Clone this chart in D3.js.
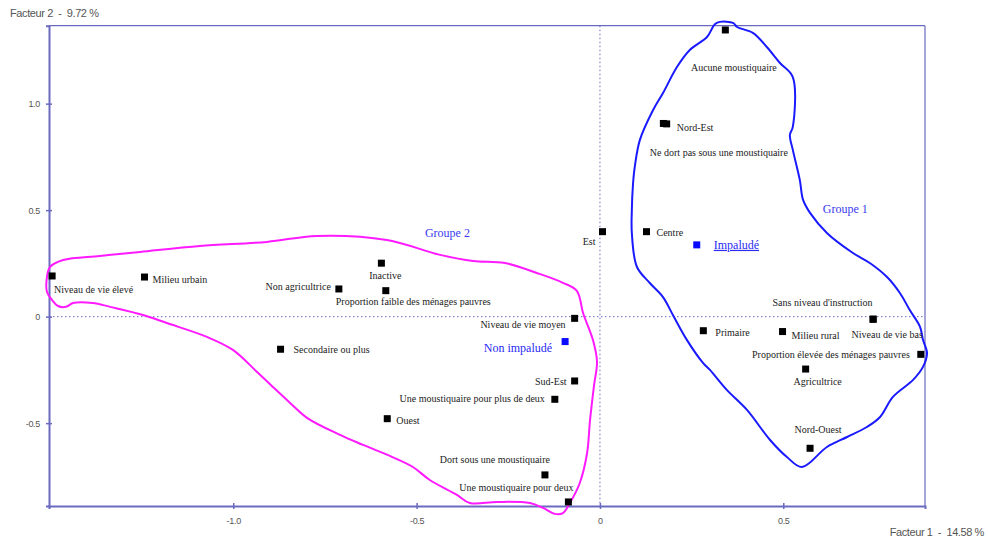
<!DOCTYPE html>
<html lang="fr">
<head>
<meta charset="utf-8">
<script src="https://cdn.jsdelivr.net/npm/d3@7"></script>
<style>
  html, body { margin: 0; padding: 0; background: #fff; }
  svg { display: block; }
  .axis-title { white-space: pre; }
</style>
</head>
<body>
<svg id="chart" width="988" height="541"></svg>
<script>
// Plan factoriel 1 x 2 : modalités actives et supplémentaires
const axisTitleX = "Facteur 1  -  14.58 %";
const axisTitleY = "Facteur 2  -  9.72 %";

const xTicks = [-1.0, -0.5, 0, 0.5];
const xTickLabels = ["-1.0", "-0.5", "0", "0.5"];
const yTicks = [1.0, 0.5, 0, -0.5];
const yTickLabels = ["1.0", "0.5", "0", "-0.5"];

// Modalités actives (coordonnées sur F1, F2)
const categories = [
  "Niveau de vie élevé", "Milieu urbain", "Non agricultrice", "Inactive",
  "Proportion faible des ménages pauvres", "Secondaire ou plus", "Est",
  "Niveau de vie moyen", "Sud-Est", "Une moustiquaire pour plus de deux",
  "Ouest", "Dort sous une moustiquaire", "Une moustiquaire pour deux",
  "Aucune moustiquaire", "Nord-Est", "Ne dort pas sous une moustiquaire",
  "Centre", "Sans niveau d'instruction", "Niveau de vie bas", "Primaire",
  "Milieu rural", "Proportion élevée des ménages pauvres", "Agricultrice",
  "Nord-Ouest"
];
const factor1 = [
  -1.494, -1.242, -0.712, -0.596,
  -0.584, -0.871, 0.007,
  -0.069, -0.069, -0.123,
  -0.580, -0.150, -0.086,
  0.342, 0.182, 0.173,
  0.127, 0.745, 0.745, 0.282,
  0.498, 0.875, 0.561,
  0.573
];
const factor2 = [
  0.191, 0.186, 0.130, 0.251,
  0.122, -0.153, 0.399,
  -0.008, -0.302, -0.388,
  -0.479, -0.743, -0.870,
  1.346, 0.905, 0.907,
  0.399, -0.012, -0.012, -0.066,
  -0.070, -0.177, -0.246,
  -0.618
];

// Modalités supplémentaires (variable paludisme)
const suppCategories = ["Impaludé", "Non impaludé"];
const suppFactor1 = [0.264, -0.095];
const suppFactor2 = [0.337, -0.117];

// Groupes
const groupNames = ["Groupe 1", "Groupe 2"];
const groupLabelF1 = [0.669, -0.416];
const groupLabelF2 = [0.485, 0.374];

// Contour du groupe 1 (F1, F2)
const group1OutlineF1 = [0.314, 0.327, 0.363, 0.374, 0.417, 0.455, 0.491, 0.526, 0.526, 0.518,
  0.526, 0.545, 0.554, 0.573, 0.619, 0.690, 0.736, 0.783, 0.818, 0.845,
  0.873, 0.881, 0.892, 0.881, 0.854, 0.799, 0.764, 0.728, 0.674, 0.619,
  0.551, 0.510, 0.464, 0.401, 0.346, 0.300, 0.281, 0.237, 0.199, 0.172,
  0.136, 0.101, 0.087, 0.087, 0.090, 0.095, 0.109, 0.145, 0.172, 0.210,
  0.245, 0.292, 0.308];
const group1OutlineF2 = [1.374, 1.384, 1.379, 1.360, 1.332, 1.266, 1.191, 1.125, 0.891, 0.853,
  0.783, 0.642, 0.548, 0.487, 0.393, 0.299, 0.252, 0.186, 0.111, 0.031,
  -0.048, -0.109, -0.171, -0.236, -0.297, -0.377, -0.471, -0.518, -0.565, -0.612,
  -0.706, -0.659, -0.579, -0.438, -0.344, -0.250, -0.217, -0.109, 0.008, 0.092,
  0.158, 0.233, 0.393, 0.501, 0.618, 0.703, 0.830, 0.970, 1.050, 1.172,
  1.252, 1.313, 1.360];

// Contour du groupe 2 (F1, F2)
const group2OutlineF1 = [-1.509, -1.500, -1.464, -1.364, -1.254, -1.091, -0.908, -0.772, -0.581, -0.436,
  -0.346, -0.259, -0.172, -0.101, -0.063, -0.046, -0.019, -0.008, -0.016, -0.027,
  -0.035, -0.055, -0.082, -0.101, -0.123, -0.155, -0.191, -0.281, -0.355, -0.390,
  -0.464, -0.510, -0.573, -0.646, -0.709, -0.799, -0.845, -0.892, -0.935, -1.001,
  -1.072, -1.181, -1.246, -1.336, -1.383, -1.437, -1.456, -1.478, -1.494, -1.508];
const group2OutlineF2 = [0.173, 0.233, 0.266, 0.285, 0.304, 0.332, 0.351, 0.379, 0.360, 0.290,
  0.261, 0.252, 0.205, 0.159, 0.121, 0.017, -0.110, -0.213, -0.321, -0.485,
  -0.640, -0.781, -0.875, -0.922, -0.926, -0.898, -0.875, -0.870, -0.875, -0.837,
  -0.767, -0.706, -0.654, -0.602, -0.555, -0.475, -0.405, -0.330, -0.260, -0.156,
  -0.095, -0.030, 0.008, 0.046, 0.064, 0.064, 0.046, 0.050, 0.078, 0.116];

// Placement des étiquettes (décalage en pixels par rapport au point)
const labelPlacement = {
  "Niveau de vie élevé": [2, 17, "start"],
  "Milieu urbain": [8, 6, "start"],
  "Non agricultrice": [-8, 1, "end"],
  "Inactive": [4, 16, "middle"],
  "Proportion faible des ménages pauvres": [-50, 14, "start"],
  "Secondaire ou plus": [13, 4, "start"],
  "Est": [-7, 13, "end"],
  "Niveau de vie moyen": [-9, 10, "end"],
  "Sud-Est": [-8, 4, "end"],
  "Une moustiquaire pour plus de deux": [-10, 3, "end"],
  "Ouest": [9, 5, "start"],
  "Dort sous une moustiquaire": [5, -12, "end"],
  "Une moustiquaire pour deux": [5, -11, "end"],
  "Aucune moustiquaire": [8.5, 41, "middle"],
  "Nord-Est": [10, 7, "start"],
  "Ne dort pas sous une moustiquaire": [-13.5, 33, "start"],
  "Centre": [10, 4, "start"],
  "Sans niveau d'instruction": [-0.5, -13, "end"],
  "Niveau de vie bas": [-21.6, 19, "start"],
  "Primaire": [12, 5, "start"],
  "Milieu rural": [9, 7, "start"],
  "Proportion élevée des ménages pauvres": [-11, 4, "end"],
  "Agricultrice": [12, 16, "middle"],
  "Nord-Ouest": [8, -15, "middle"],
  "Impaludé": [17, 4, "start"],
  "Non impaludé": [-13, 10, "end"]
};

const axisColor = "#6a6ac0";
const svg = d3.select("#chart");

const x = d3.scaleLinear().domain([-1.5025, 0.8865]).range([49, 925]);
const y = d3.scaleLinear().domain([-0.889, 1.366]).range([506, 25.7]);

// Cadre
svg.append("line").attr("x1", x.range()[0]).attr("x2", x.range()[1])
  .attr("y1", y.range()[1]).attr("y2", y.range()[1])
  .attr("stroke", axisColor).attr("stroke-width", 1.3);
svg.append("line").attr("x1", x.range()[1]).attr("x2", x.range()[1])
  .attr("y1", y.range()[1]).attr("y2", y.range()[0])
  .attr("stroke", axisColor).attr("stroke-width", 1.2);

// Axes passant par l'origine (pointillés)
svg.append("line").attr("x1", x.range()[0]).attr("x2", x.range()[1])
  .attr("y1", y(0)).attr("y2", y(0))
  .attr("stroke", axisColor).attr("stroke-width", 1).attr("stroke-dasharray", "1.5,2.5");
svg.append("line").attr("x1", x(0)).attr("x2", x(0))
  .attr("y1", y.range()[1]).attr("y2", y.range()[0])
  .attr("stroke", axisColor).attr("stroke-width", 1).attr("stroke-dasharray", "1.5,2.5");

// Axe horizontal
const gx = svg.append("g").attr("transform", `translate(0,${y.range()[0]})`)
  .call(d3.axisBottom(x).tickValues(xTicks)
    .tickFormat((d, i) => xTickLabels[i]).tickSize(3).tickPadding(9));
gx.select(".domain").attr("stroke", axisColor).attr("stroke-width", 2);
gx.selectAll(".tick line").attr("stroke", axisColor).attr("stroke-width", 1.5).attr("y1", -3);
gx.selectAll(".tick text").attr("fill", "#555").attr("font-family", "Liberation Sans, Arial, sans-serif")
  .attr("font-size", 9).attr("letter-spacing", -0.3);

// Axe vertical
const gy = svg.append("g").attr("transform", `translate(${x.range()[0]},0)`)
  .call(d3.axisLeft(y).tickValues(yTicks)
    .tickFormat((d, i) => yTickLabels[i]).tickSize(3).tickPadding(6));
gy.select(".domain").attr("stroke", axisColor).attr("stroke-width", 2);
gy.selectAll(".tick line").attr("stroke", axisColor).attr("stroke-width", 1.5).attr("x1", 3);
gy.selectAll(".tick text").attr("fill", "#555").attr("font-family", "Liberation Sans, Arial, sans-serif")
  .attr("font-size", 9).attr("letter-spacing", -0.3);

// Titres des axes
svg.append("text").attr("class", "axis-title").attr("x", 10).attr("y", 17)
  .attr("font-family", "Liberation Sans, Arial, sans-serif").attr("font-size", 11)
  .attr("letter-spacing", -0.4).attr("fill", "#555").text(axisTitleY);
svg.append("text").attr("class", "axis-title").attr("x", 984).attr("y", 536).attr("text-anchor", "end")
  .attr("font-family", "Liberation Sans, Arial, sans-serif").attr("font-size", 11)
  .attr("letter-spacing", -0.4).attr("fill", "#555").text(axisTitleX);

// Contours des groupes
const outline = d3.line().x(d => x(d[0])).y(d => y(d[1])).curve(d3.curveCatmullRomClosed.alpha(0.5));
const g1 = d3.zip(group1OutlineF1, group1OutlineF2);
const g2 = d3.zip(group2OutlineF1, group2OutlineF2);
svg.append("path").attr("d", outline(g2)).attr("fill", "none")
  .attr("stroke", "#ff1aff").attr("stroke-width", 2);
svg.append("path").attr("d", outline(g1)).attr("fill", "none")
  .attr("stroke", "#1a1aff").attr("stroke-width", 2);

// Noms des groupes
svg.selectAll("text.group").data(d3.zip(groupNames, groupLabelF1, groupLabelF2)).join("text")
  .attr("class", "group")
  .attr("x", d => x(d[1])).attr("y", d => y(d[2])).attr("text-anchor", "middle")
  .attr("font-family", "Liberation Serif, Times New Roman, serif").attr("font-size", 12)
  .attr("fill", "#3a3af0").text(d => d[0]);

// Points actifs
const active = categories.map((c, i) => ({ name: c, f1: factor1[i], f2: factor2[i] }));
const supp = suppCategories.map((c, i) => ({ name: c, f1: suppFactor1[i], f2: suppFactor2[i] }));
const sq = 7;

svg.selectAll("rect.active").data(active).join("rect").attr("class", "active")
  .attr("x", d => x(d.f1) - sq / 2).attr("y", d => y(d.f2) - sq / 2)
  .attr("width", sq).attr("height", sq).attr("fill", "#000");

svg.selectAll("text.active").data(active).join("text").attr("class", "active")
  .attr("x", d => x(d.f1) + labelPlacement[d.name][0])
  .attr("y", d => y(d.f2) + labelPlacement[d.name][1])
  .attr("text-anchor", d => labelPlacement[d.name][2])
  .attr("font-family", "Liberation Serif, Times New Roman, serif").attr("font-size", 10)
  .attr("fill", "#222").text(d => d.name);

// Points supplémentaires
svg.selectAll("rect.supp").data(supp).join("rect").attr("class", "supp")
  .attr("x", d => x(d.f1) - sq / 2).attr("y", d => y(d.f2) - sq / 2)
  .attr("width", sq).attr("height", sq).attr("fill", "#0a0aff");

svg.selectAll("text.supp").data(supp).join("text").attr("class", "supp")
  .attr("x", d => x(d.f1) + labelPlacement[d.name][0])
  .attr("y", d => y(d.f2) + labelPlacement[d.name][1])
  .attr("text-anchor", d => labelPlacement[d.name][2])
  .attr("font-family", "Liberation Serif, Times New Roman, serif").attr("font-size", 12)
  .attr("text-decoration", d => d.name === "Impaludé" ? "underline" : null)
  .attr("fill", "#2a2af5").text(d => d.name);
</script>
</body>
</html>
